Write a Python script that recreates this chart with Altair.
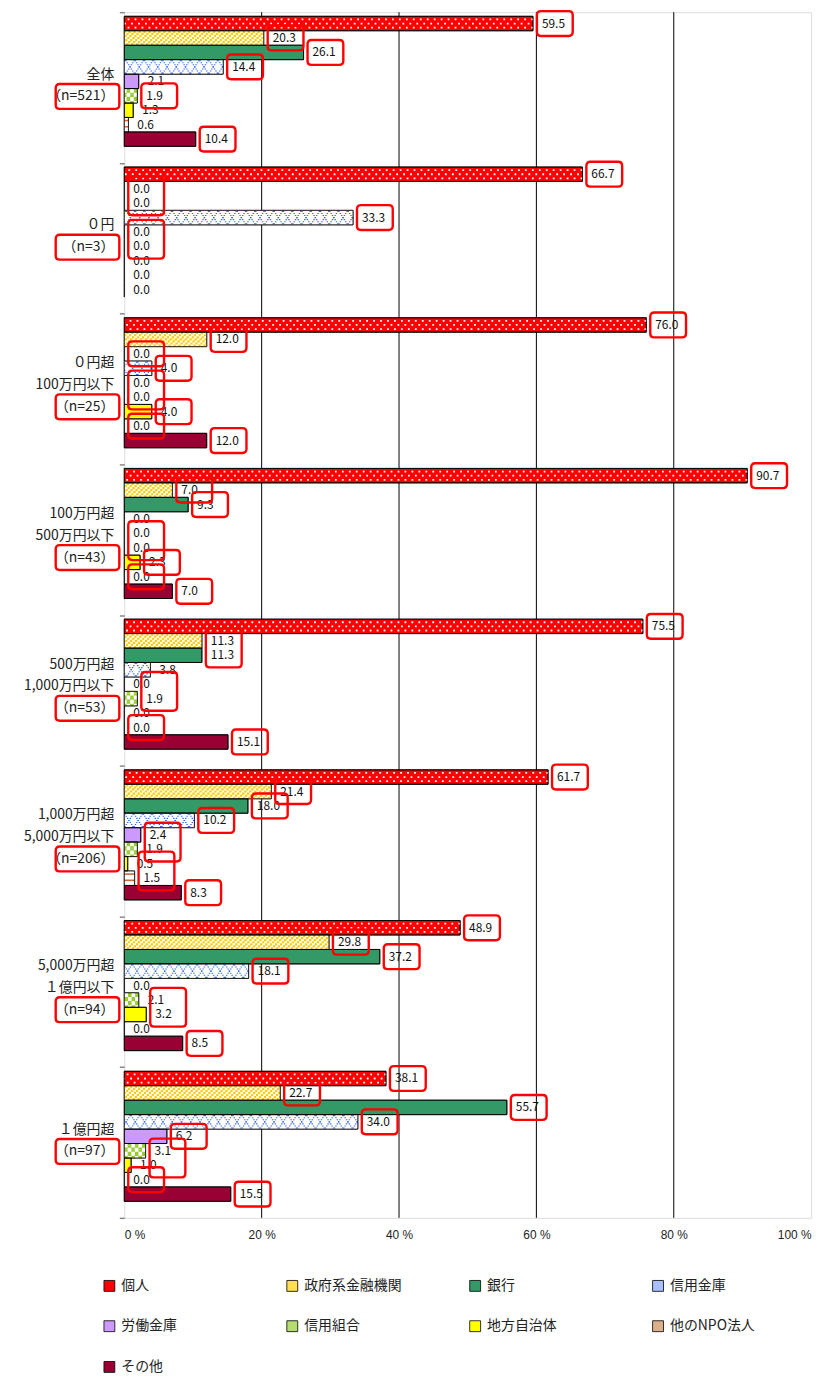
import altair as alt
import pandas as pd

# ---------------- data ----------------
groups = ["全体", "０円", "０円超|100万円以下", "100万円超|500万円以下",
          "500万円超|1,000万円以下", "1,000万円超|5,000万円以下",
          "5,000万円超|１億円以下", "１億円超"]
n_labels = ["（n=521）", "（n=3）", "（n=25）", "（n=43）", "（n=53）",
            "（n=206）", "（n=94）", "（n=97）"]
series = ["個人", "政府系金融機関", "銀行", "信用金庫", "労働金庫",
          "信用組合", "地方自治体", "他のNPO法人", "その他"]

kojin    = [59.5, 66.7, 76.0, 90.7, 75.5, 61.7, 48.9, 38.1]
seifu    = [20.3, 0.0, 12.0, 7.0, 11.3, 21.4, 29.8, 22.7]
ginko    = [26.1, 0.0, 0.0, 9.3, 11.3, 18.0, 37.2, 55.7]
shinkin  = [14.4, 33.3, 4.0, 0.0, 3.8, 10.2, 18.1, 34.0]
rokin    = [2.1, 0.0, 0.0, 0.0, 0.0, 2.4, 0.0, 6.2]
shinkumi = [1.9, 0.0, 0.0, 0.0, 1.9, 1.9, 2.1, 3.1]
jichitai = [1.3, 0.0, 4.0, 2.3, 0.0, 0.5, 3.2, 1.0]
npo      = [0.6, 0.0, 0.0, 0.0, 0.0, 1.5, 0.0, 0.0]
sonota   = [10.4, 0.0, 12.0, 7.0, 15.1, 8.3, 8.5, 15.5]
values_by_series = [kojin, seifu, ginko, shinkin, rokin, shinkumi, jichitai, npo, sonota]

x_ticks = [0, 20, 40, 60, 80, 100]
grid_values = [20, 40, 60, 80]

# red highlight boxes drawn around value labels (group index, series index, span)
box_group  = [0, 0, 0, 0, 0, 0,  1, 1, 1, 1,  2, 2, 2, 2, 2, 2, 2, 2,
              3, 3, 3, 3, 3, 3, 3,  4, 4, 4, 4, 4,  5, 5, 5, 5, 5, 5, 5,
              6, 6, 6, 6, 6, 6,  7, 7, 7, 7, 7, 7, 7, 7]
box_series = [0, 1, 2, 3, 5, 8,  0, 1, 3, 4,  0, 1, 2, 3, 4, 6, 7, 8,
              0, 1, 2, 4, 6, 7, 8,  0, 1, 4, 7, 8,  0, 1, 2, 3, 4, 6, 8,
              0, 1, 2, 3, 5, 8,  0, 1, 2, 3, 4, 5, 7, 8]
box_span   = [1, 1, 1, 1, 1, 1,  1, 2, 1, 2,  1, 1, 1, 1, 2, 1, 1, 1,
              1, 1, 1, 2, 1, 1, 1,  1, 2, 2, 1, 1,  1, 1, 1, 1, 2, 2, 1,
              1, 1, 1, 1, 2, 1,  1, 1, 1, 1, 1, 2, 1, 1]

# ---------------- tables ----------------
rows = []
for si, s in enumerate(series):
    for gi, g in enumerate(groups):
        v = values_by_series[si][gi]
        rows.append({"group": g, "gi": gi, "series": s, "si": si, "value": v,
                     "label": f"{v:.1f}"})
df = pd.DataFrame(rows)

brows = []
for gi, si, sp in zip(box_group, box_series, box_span):
    vals = [values_by_series[si + k][gi] for k in range(sp)]
    brows.append({"gi": gi, "si": si, "value": max(vals), "span": sp})
bdf = pd.DataFrame(brows)

gdf = pd.DataFrame({
    "gi": list(range(len(groups))),
    "text": [g + "|" + n for g, n in zip(groups, n_labels)],
    "nlines": [g.count("|") + 2 for g in groups],
})
griddf = pd.DataFrame({"gv": grid_values})

# ---------------- layout of the category axis (slot units) ----------------
G = 73      # slots per group
TOP = 2     # empty slots above the first bar of a group
SER = 7     # slots per bar
NG = len(groups)
SLOT = "datum.gi*%d + %d + datum.si*%d" % (G, TOP, SER)

# ---------------- styles ----------------
FONT = "Noto Sans CJK JP"
legend_fill = ["#ff0000", "#ffdd55", "#339966", "#a9bfff", "#cc99ff",
               "#b5dc6e", "#ffff00", "#ddb08c", "#990033"]
hatched = ["政府系金融機関", "信用金庫", "信用組合", "他のNPO法人"]
ROWPX = 1213 / (NG * G)

xscale = alt.Scale(domain=[0, 100], nice=False, zero=True)
xaxis = alt.Axis(values=x_ticks, labelExpr="datum.value + ' %'", grid=False,
                 ticks=False, domain=False, labelFontSize=12, labelFont="Liberation Sans",
                 labelColor="#222222", labelPadding=12, title=None)
yscale = alt.Scale(domain=[0, NG * G], reverse=True, nice=False, zero=True)
yaxis = alt.Axis(values=[i * G for i in range(NG + 1)], labels=False, ticks=True,
                 tickColor="#888888", tickSize=5, tickWidth=1.5, domain=False,
                 grid=False, title=None)

X = alt.X("value:Q", scale=xscale, axis=xaxis)
X20 = alt.X2Datum(0)

layers = []

# vertical grid lines
layers.append(
    alt.Chart(griddf).mark_rule(color="#000000", strokeWidth=1).encode(
        x=alt.X("gv:Q", scale=xscale, axis=xaxis))
)

# base bars (fill colours + legend)
layers.append(
    alt.Chart(df).transform_calculate(
        ytop=SLOT, ybot=SLOT + " + %d" % SER
    ).mark_rect(stroke="black", strokeWidth=0.8).encode(
        x=X, x2=X20,
        y=alt.Y("ytop:Q", scale=yscale, axis=yaxis), y2=alt.Y2("ybot:Q"),
        fill=alt.Fill("series:N", sort=series,
                      scale=alt.Scale(domain=series, range=legend_fill),
                      legend=alt.Legend(orient="none", legendX=-22, legendY=1274,
                                        direction="horizontal", columns=4, title=None,
                                        symbolType="square", symbolSize=120,
                                        symbolOpacity=1,
                                        symbolStrokeColor="black", symbolStrokeWidth=0.8,
                                        labelFont=FONT, labelFontSize=14, labelColor="#222222",
                                        labelOffset=5, columnPadding=66, rowPadding=25,
                                        gridAlign="all", labelLimit=200)),
    )
)

# white ground under the hatched series
layers.append(
    alt.Chart(df).transform_filter(
        alt.FieldOneOfPredicate(field="series", oneOf=hatched)
    ).transform_calculate(
        ytop=SLOT, ybot=SLOT + " + %d" % SER
    ).mark_rect(fill="#ffffff").encode(
        x=X, x2=X20,
        y=alt.Y("ytop:Q", scale=yscale, axis=yaxis), y2=alt.Y2("ybot:Q"))
)

# hatch patterns drawn right-to-left from bar end: (series, row, colour, width, dash, offset)
pat = []
for r in (1, 3, 5):
    pat.append(("個人", r, "#ffffff", 1.8, [1.8, 5.2], 0 if r != 3 else 3.5))
for r in range(SER):
    pat.append(("政府系金融機関", r, "#ffcc00", 2.2, [2.3, 2.7], (-(r - 3) * ROWPX) % 5))
for r in range(SER):
    k = (r - 3) * ROWPX * 0.65
    pat.append(("信用金庫", r, "#3366ff", 1.1, [1.4, 7.9], k % 9.3))
    pat.append(("信用金庫", r, "#3366ff", 1.1, [1.4, 7.9], (-k) % 9.3))
for r in range(SER):
    pat.append(("信用組合", r, "#99cc33", 2.2, [3.6, 3.6], 0 if (r // 2) % 2 == 0 else 3.6))
for r in (1, 4):
    pat.append(("他のNPO法人", r, "#cc6633", 1.6, None, 0))

for s, r, col, w, dash, off in pat:
    props = dict(stroke=col, strokeWidth=w, strokeCap="butt")
    if dash is not None:
        props.update(strokeDash=dash, strokeDashOffset=round(off, 2))
    layers.append(
        alt.Chart(df).transform_filter(
            (alt.datum.series == s) & (alt.datum.value > 0)
        ).transform_calculate(
            yrow=SLOT + " + %s" % (r + 0.5)
        ).mark_rule(**props).encode(
            x=X, x2=X20,
            y=alt.Y("yrow:Q", scale=yscale, axis=yaxis),
        )
    )

# bar outlines on top of patterns
layers.append(
    alt.Chart(df).transform_filter(alt.datum.value > 0).transform_calculate(
        ytop=SLOT, ybot=SLOT + " + %d" % SER
    ).mark_rect(fillOpacity=0, stroke="black", strokeWidth=0.8).encode(
        x=X, x2=X20,
        y=alt.Y("ytop:Q", scale=yscale, axis=yaxis), y2=alt.Y2("ybot:Q"))
)

# value labels
layers.append(
    alt.Chart(df).transform_calculate(ymid=SLOT + " + %s" % (SER / 2)).mark_text(
        align="left", baseline="middle", dx=9, fontSize=12, font=FONT, color="#111111"
    ).encode(x=X, y=alt.Y("ymid:Q", scale=yscale, axis=yaxis), text="label:N")
)

# red boxes around labels
one = ("M-1.4,-1.25 H1.4 Q1.8,-1.25 1.8,-0.85 V0.85 Q1.8,1.25 1.4,1.25 H-1.4 "
       "Q-1.8,1.25 -1.8,0.85 V-0.85 Q-1.8,-1.25 -1.4,-1.25 Z")
two = ("M-1.4,-1.95 H1.4 Q1.8,-1.95 1.8,-1.55 V1.55 Q1.8,1.95 1.4,1.95 H-1.4 "
       "Q-1.8,1.95 -1.8,1.55 V-1.55 Q-1.8,-1.95 -1.4,-1.95 Z")
for sp, shp in ((1, one), (2, two)):
    layers.append(
        alt.Chart(bdf).transform_filter(alt.datum.span == sp).transform_calculate(
            ybox=SLOT + " + %s" % (SER * sp / 2)
        ).mark_point(
            shape=shp, size=400, filled=False, stroke="#ff0000", strokeWidth=2.4,
            opacity=1, xOffset=22
        ).encode(x=X, y=alt.Y("ybox:Q", scale=yscale, axis=yaxis))
    )

# group labels (first line at the anchor, following lines below it)
nbox = ("M-2.8,-1.25 H2.8 Q3.2,-1.25 3.2,-0.85 V0.85 Q3.2,1.25 2.8,1.25 H-2.8 "
        "Q-3.2,1.25 -3.2,0.85 V-0.85 Q-3.2,-1.25 -2.8,-1.25 Z")
for nl, dy_text, dy_box in ((2, -13, 9), (3, -26, 18)):
    layers.append(
        alt.Chart(gdf).transform_filter(alt.datum.nlines == nl).transform_calculate(
            yc="datum.gi*%d + %s" % (G, G / 2)
        ).mark_text(
            align="right", baseline="middle", lineBreak="|", fontSize=14, lineHeight=22,
            dy=dy_text, font=FONT, color="#222222"
        ).encode(x=alt.value(-10), y=alt.Y("yc:Q", scale=yscale, axis=yaxis), text="text:N")
    )
    layers.append(
        alt.Chart(gdf).transform_filter(alt.datum.nlines == nl).transform_calculate(
            yc="datum.gi*%d + %s" % (G, G / 2)
        ).mark_point(
            shape=nbox, size=400, filled=False, stroke="#ff0000", strokeWidth=2.4,
            opacity=1, yOffset=dy_box
        ).encode(x=alt.value(-37), y=alt.Y("yc:Q", scale=yscale, axis=yaxis))
    )

chart = alt.layer(*layers).properties(
    width=691, height=1213,
    padding={"left": 117, "top": 0, "right": 20, "bottom": 170},
    autosize=alt.AutoSizeParams(type="none"),
).configure_view(stroke="#888888", strokeWidth=1.5).configure(font=FONT)

chart.save("out.html", embed_options={"renderer": "svg", "actions": False})
